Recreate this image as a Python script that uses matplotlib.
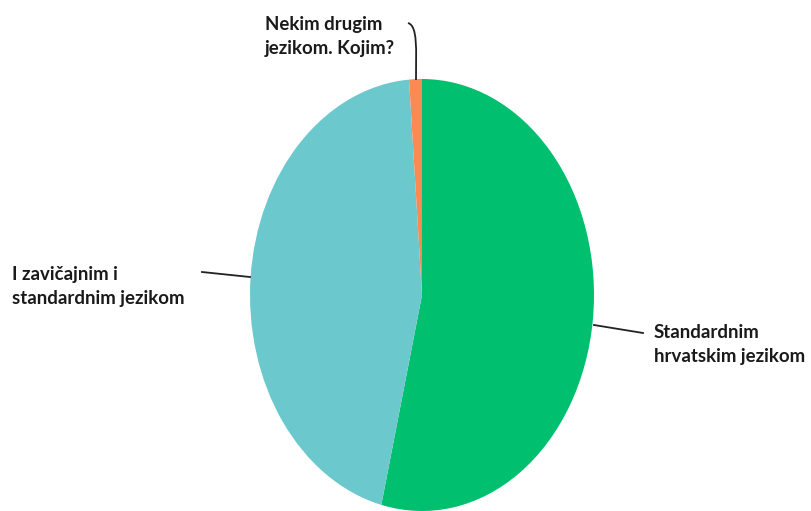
import matplotlib
matplotlib.use('Agg')
import matplotlib.pyplot as plt
from matplotlib.lines import Line2D
from matplotlib.path import Path
from matplotlib.patches import PathPatch

labels = ['Standardnim\nhrvatskim jezikom', 'I zavičajnim i\nstandardnim jezikom', 'Nekim drugim\njezikom. Kojim?']
values = [53.8, 45.0, 1.2]
colors = ['#00BF6F', '#6BC8CD', '#F98B52']

W, H = 811, 511
fig = plt.figure(figsize=(W / 100, H / 100), dpi=100)
plt.rcParams['font.family'] = ['Lato', 'DejaVu Sans']


def px(x, y):
    return x / W, 1 - y / H


# pie box in pixels: x 250..594, y 79..511
ax = fig.add_axes([250 / W, 0, 344 / W, 432 / H])
ax.pie(values, colors=colors, startangle=90, counterclock=False,
       wedgeprops=dict(linewidth=0))
ax.set_aspect('auto')
ax.set_xlim(-1, 1)
ax.set_ylim(-1, 1)
ax.axis('off')

text_kw = dict(fontsize=13.4, fontweight='bold', color='#1a1a1a',
               va='top', ha='left', linespacing=1.5)
fig.text(*px(654, 324), labels[0], **text_kw)
fig.text(*px(12, 266), labels[1], **text_kw)
fig.text(*px(265, 16), labels[2], **text_kw)

line_kw = dict(color='#222222', linewidth=1.3, transform=fig.transFigure)
fig.add_artist(Line2D(*zip(px(594, 325), px(643, 333)), **line_kw))
fig.add_artist(Line2D(*zip(px(202, 272), px(250, 277)), **line_kw))

verts = [px(408, 23), px(418, 26), px(416, 50), px(416, 80)]
path = Path(verts, [Path.MOVETO, Path.CURVE4, Path.CURVE4, Path.CURVE4])
fig.add_artist(PathPatch(path, fill=False, edgecolor='#222222', linewidth=1.3,
                         transform=fig.transFigure))

fig.savefig('out.png', dpi=100)
